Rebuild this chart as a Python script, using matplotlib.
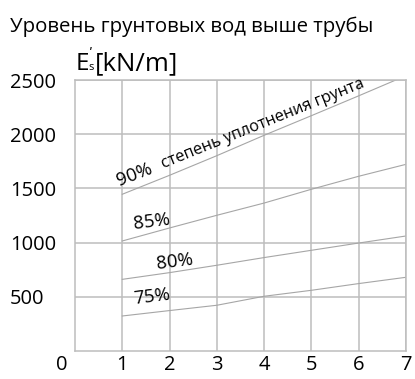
import matplotlib
matplotlib.use("Agg")
import matplotlib.pyplot as plt
from matplotlib import transforms

plt.rcParams['font.family'] = ['Open Sans', 'DejaVu Sans']

# Soil modulus E's [kN/m] versus x for four compaction levels
x_vals = [1, 2, 3, 4, 5, 6, 7]
e_90 = [1446, 1621, 1802, 1990, 2171, 2354, 2540]
e_85 = [1015, 1135, 1252, 1365, 1492, 1612, 1722]
e_80 = [661, 723, 791, 862, 929, 996, 1061]
e_75 = [323, 373, 422, 505, 560, 622, 680]

x_ticks = [1, 2, 3, 4, 5, 6, 7]
y_ticks = [500, 1000, 1500, 2000, 2500]
y_labels = ["500", "1000", "1500", "2000", "2500"]

title_text = "Уровень грунтовых вод выше трубы"
compaction_text = "степень уплотнения грунта"

grid_col = "#bdbdbd"
line_col = "#a6a6a6"

W, H = 415, 379
fig = plt.figure(figsize=(W / 100, H / 100), dpi=100)
ax = fig.add_axes([75 / W, 1 - 351 / H, (406 - 75) / W, (351 - 80) / H])

ax.set_xlim(0, 7)
ax.set_ylim(0, 2500)

for s in ax.spines.values():
    s.set_color(grid_col)
    s.set_linewidth(1.1)

ax.set_xticks(x_ticks)
ax.set_xticklabels([str(v) for v in x_ticks])
ax.set_yticks(y_ticks)
ax.set_yticklabels(y_labels)
ax.tick_params(axis='both', length=0, labelsize=14.5, colors='black')
ax.tick_params(axis='y', pad=47)
ax.tick_params(axis='x', pad=3)
for lab in ax.get_yticklabels():
    lab.set_horizontalalignment('left')
ax.grid(True, color=grid_col, linewidth=1.1)
ax.set_axisbelow(True)

for series in (e_90, e_85, e_80, e_75):
    ax.plot(x_vals, series, color=line_col, linewidth=0.8, clip_on=True)

# origin label sits left of the corner, level with the x tick labels
fig.canvas.draw()
bb = ax.get_xticklabels()[0].get_window_extent()
ax.text(0, bb.y1, "0", fontsize=14.5, ha='center', va='top', clip_on=False,
        transform=transforms.blended_transform_factory(
            transforms.offset_copy(ax.transData, fig=fig, x=-13.5,
                                   units='dots'),
            transforms.IdentityTransform()))

# curve labels
lbl = dict(color='black', rotation_mode='anchor', ha='left', va='baseline')
ax.text(0.93, 1525, "90%", fontsize=13.5, rotation=21, **lbl)
ax.text(1.88, 1690, compaction_text, fontsize=11.6, rotation=22, **lbl)
ax.text(1.25, 1130, "85%", fontsize=13.5, rotation=7, **lbl)
ax.text(1.74, 760, "80%", fontsize=13.5, rotation=7, **lbl)
ax.text(1.25, 431, "75%", fontsize=13.5, rotation=7, **lbl)

# title and axis quantity
fig.text(10 / W, 1 - 32.3 / H, title_text, fontsize=14.7, ha='left',
         va='baseline')
fig.text(76 / W, 1 - 70 / H, "E", fontsize=17.5, ha='left', va='baseline')
fig.text(88.5 / W, 1 - 58 / H, "ʹ", fontsize=10, ha='left', va='baseline')
fig.text(88 / W, 1 - 70 / H, "s", fontsize=8, ha='left', va='baseline')
fig.text(95 / W, 1 - 70 / H, "[kN/m]", fontsize=18.5, ha='left',
         va='baseline')

fig.savefig("out.png", dpi=100)
